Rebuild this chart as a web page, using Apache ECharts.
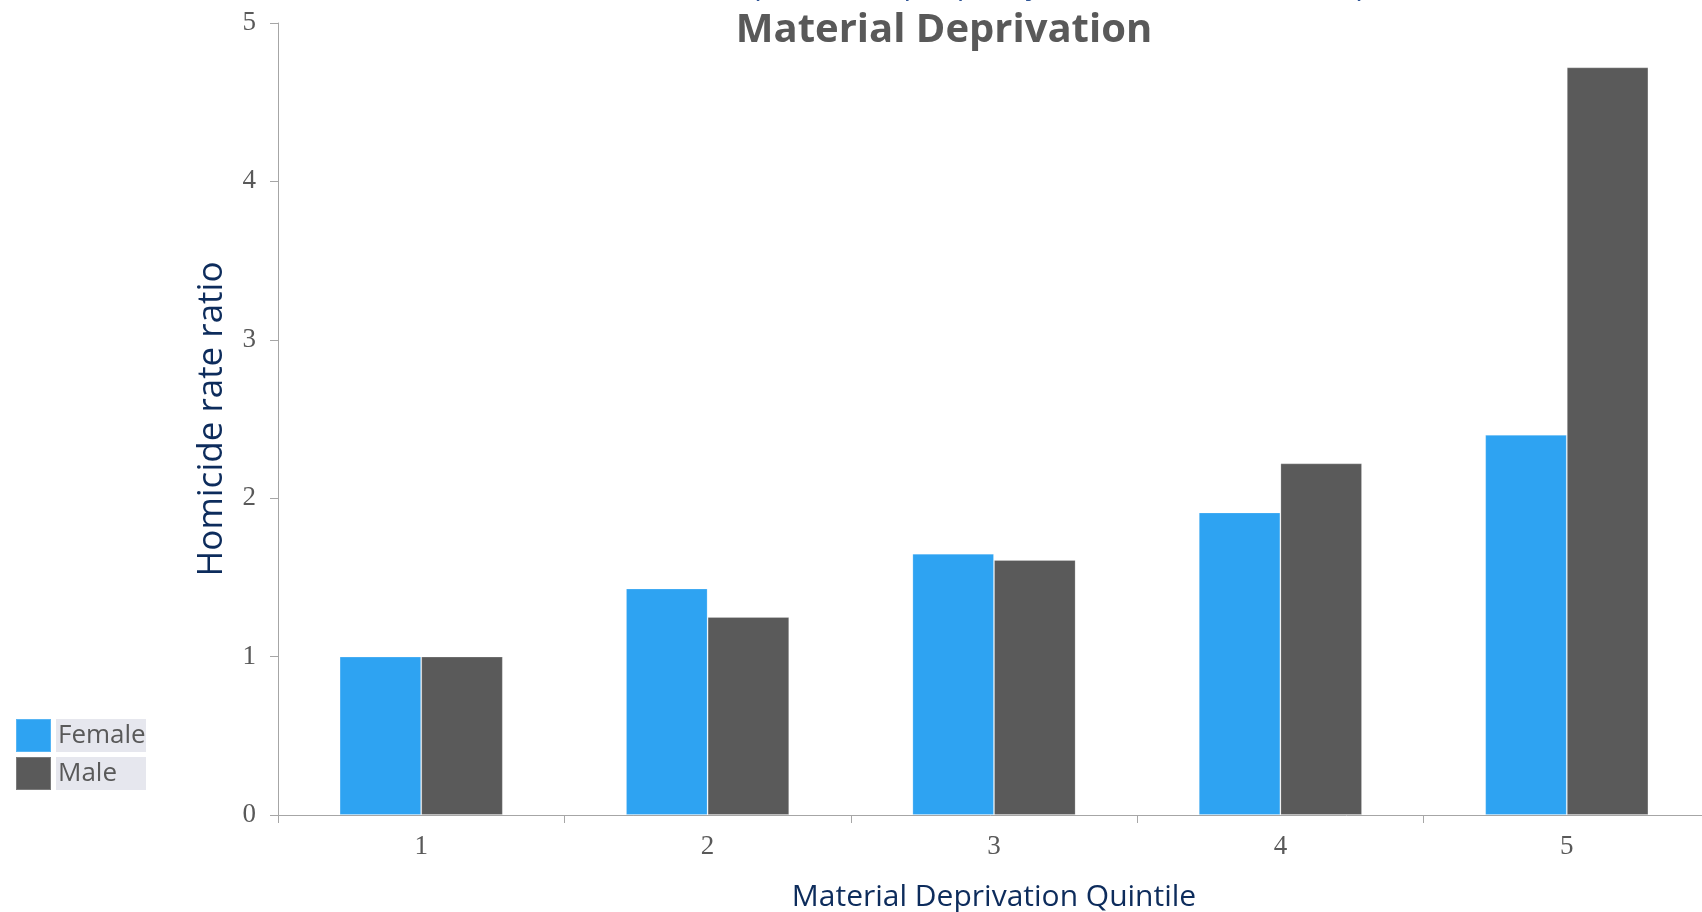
<!DOCTYPE html>
<html>
<head>
<meta charset="utf-8">
<script src="https://cdn.jsdelivr.net/npm/echarts@6/dist/echarts.min.js"></script>
<style>html,body{margin:0;padding:0;background:#fff;}#c{width:1702px;height:912px;}</style>
</head>
<body>
<div id="c"></div>
<script>
const categories = ['1', '2', '3', '4', '5'];
const femaleValues = [1.0, 1.43, 1.65, 1.91, 2.40];
const maleValues = [1.0, 1.25, 1.61, 2.22, 4.72];
const yTicks = [0, 1, 2, 3, 4, 5];
const titleLine1 = 'Homicide Rate Comparison of people by Sex and Quintile Group of';
const titleLine2 = 'Material Deprivation';
const seriesNames = ['Female', 'Male'];

const chart = echarts.init(document.getElementById('c'), null, {renderer: 'canvas'});
const sansFont = '"Open Sans", "Noto Sans", sans-serif';
const serifFont = '"Liberation Serif", "DejaVu Serif", serif';
chart.setOption({
  animation: false,
  backgroundColor: '#ffffff',
  title: [
    {
      text: titleLine1, left: 944, top: -33, textAlign: 'center', padding: 0,
      textStyle: {fontFamily: sansFont, fontSize: 30, fontWeight: 'normal', color: '#2f5597', lineHeight: 36}
    },
    {
      text: titleLine2, left: 944, top: 9, textAlign: 'center', padding: 0,
      textStyle: {fontFamily: sansFont, fontSize: 40, fontWeight: 'bold', color: '#595959', lineHeight: 44}
    }
  ],
  legend: {
    orient: 'vertical', left: 15, top: 718, padding: 0,
    itemWidth: 35, itemHeight: 33, itemGap: 3,
    icon: 'rect',
    data: seriesNames,
    textStyle: {fontFamily: sansFont, fontSize: 26, color: '#595959', backgroundColor: '#e6e7ee', width: 88, height: 33, lineHeight: 33, padding: [0, 0, 0, 2]}
  },
  grid: {left: 278, top: 23, width: 1432, height: 792, outerBoundsMode: 'none', containLabel: false},
  xAxis: {
    type: 'category', data: categories,
    name: 'Material Deprivation Quintile', nameLocation: 'middle', nameGap: 67,
    nameTextStyle: {fontFamily: sansFont, fontSize: 30, color: '#0d2c5c'},
    axisLine: {lineStyle: {color: '#a6a6a6', width: 1}},
    axisTick: {show: true, length: 8, lineStyle: {color: '#a6a6a6'}},
    axisLabel: {fontFamily: serifFont, fontSize: 27, color: '#595959', margin: 18}
  },
  yAxis: {
    type: 'value', min: 0, max: 5, interval: 1,
    name: 'Homicide rate ratio', nameLocation: 'middle', nameGap: 48,
    nameTextStyle: {fontFamily: sansFont, fontSize: 35, color: '#0d2c5c'},
    axisLine: {show: true, lineStyle: {color: '#a6a6a6', width: 1}},
    axisTick: {show: true, length: 8, lineStyle: {color: '#a6a6a6'}},
    splitLine: {show: false},
    axisLabel: {fontFamily: serifFont, fontSize: 27, color: '#595959', margin: 22,
      formatter: v => (yTicks.indexOf(v) >= 0 ? String(v) : '')}
  },
  series: [
    {name: seriesNames[0], type: 'bar', data: femaleValues, barGap: '0%', barCategoryGap: '43%',
     itemStyle: {color: '#2ea3f2', borderColor: 'rgba(255,255,255,0.2)', borderWidth: 1}},
    {name: seriesNames[1], type: 'bar', data: maleValues, barGap: '0%', barCategoryGap: '43%',
     itemStyle: {color: '#5a5a5a', borderColor: 'rgba(255,255,255,0.2)', borderWidth: 1}}
  ]
});
</script>
</body>
</html>
